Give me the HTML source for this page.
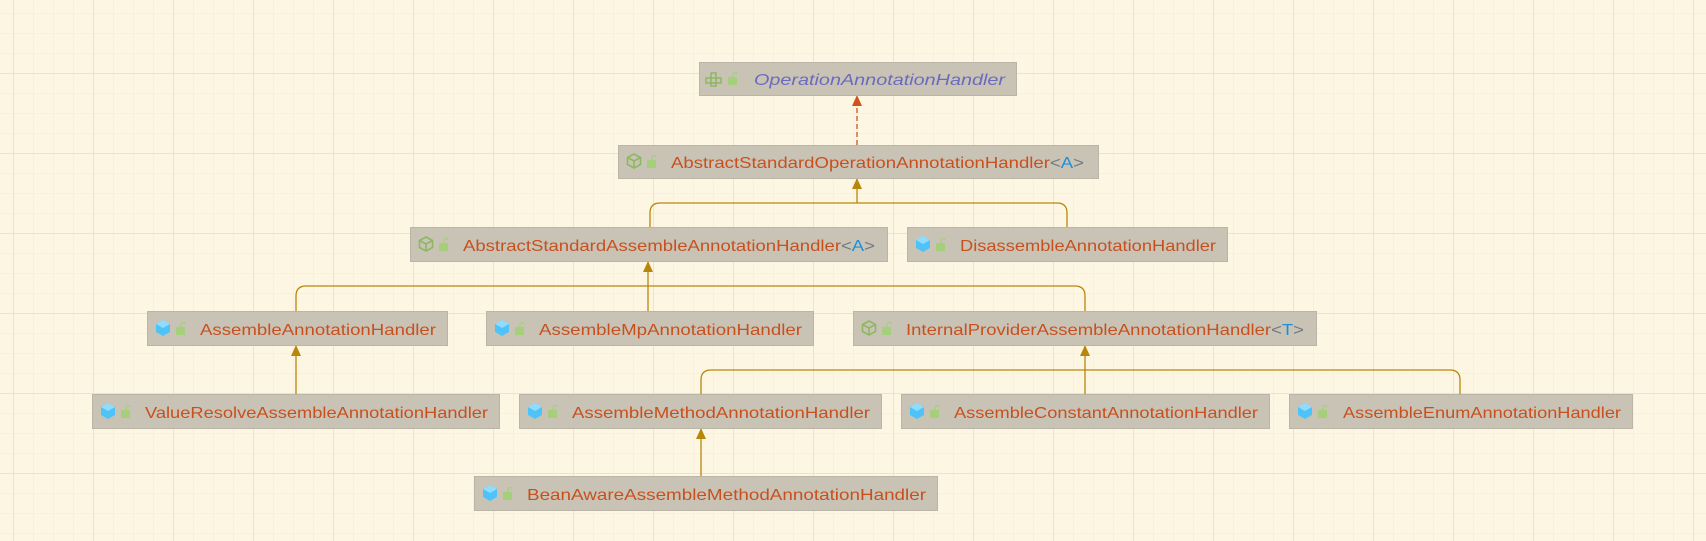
<!DOCTYPE html>
<html><head><meta charset="utf-8"><style>
html,body{margin:0;padding:0;background:#fdf6e3;}
svg{display:block}
text{font-family:"Liberation Sans",sans-serif;font-size:16px;fill:#c8501e}
</style></head><body>
<svg width="1706" height="541" xmlns="http://www.w3.org/2000/svg">
<defs>
<pattern id="minor" width="20" height="20" patternUnits="userSpaceOnUse" x="13" y="13">
<path d="M0 0.5H20M0.5 0V20" stroke="#f7f0de" stroke-width="1" fill="none"/>
</pattern>
<pattern id="major" width="80" height="80" patternUnits="userSpaceOnUse" x="13" y="73">
<path d="M0 0.5H80M0.5 0V80" stroke="#e8e3d7" stroke-width="1" fill="none"/>
</pattern>
<g id="cls"><path d="M8 0L15 4V12L8 16L1 12V4Z" fill="#4fc3f7"/><path d="M1 4L8 8L15 4L8 0Z" fill="#8fdcff"/></g>
<g id="abs"><path d="M8 1L14.5 4.5V11.5L8 15L1.5 11.5V4.5Z M1.5 4.5L8 8L14.5 4.5M8 8V15" fill="none" stroke="#8db860" stroke-width="1.6"/></g>
<g id="lock"><rect x="0" y="5" width="9" height="8" fill="#a6cf7c"/><path d="M5 5V2.5Q5 0.5 7 0.5Q9 0.5 9 2.5" fill="none" stroke="#a6cf7c" stroke-width="1.3"/></g>
<g id="intf"><rect x="6" y="2" width="5" height="5" fill="none" stroke="#8db860" stroke-width="1.5"/><rect x="1" y="7" width="5" height="5" fill="none" stroke="#8db860" stroke-width="1.5"/><rect x="11" y="7" width="5" height="5" fill="none" stroke="#8db860" stroke-width="1.5"/><rect x="6" y="12" width="5" height="3" fill="none" stroke="#8db860" stroke-width="1.5"/></g>
</defs>
<rect width="1706" height="541" fill="url(#minor)"/>
<rect width="1706" height="541" fill="url(#major)"/>

<g fill="none" stroke="#b8860b" stroke-width="1.3">
<path d="M857 178V203M650 227V213Q650 203 660 203H1057Q1067 203 1067 213V227"/>
<path d="M648 261V311M296 311V296Q296 286 306 286H1075Q1085 286 1085 296V311"/>
<path d="M296 345V394"/>
<path d="M1085 345V394M701 394V380Q701 370 711 370H1450Q1460 370 1460 380V394"/>
<path d="M701 428V476"/>
</g>
<g fill="#b8860b">
<path d="M857 178l-5 11h10z"/><path d="M648 261l-5 11h10z"/><path d="M296 345l-5 11h10z"/><path d="M1085 345l-5 11h10z"/><path d="M701 428l-5 11h10z"/>
</g>
<path d="M857 145V100" stroke="#d2521e" stroke-width="1.3" stroke-dasharray="5,3"/>
<path d="M857 95l-5 11h10z" fill="#d2521e"/>

<g fill="#c9c3b6" stroke="#bbb5a8" stroke-width="1">
<rect x="699.5" y="62.5" width="317" height="33"/>
<rect x="618.5" y="145.5" width="480" height="33"/>
<rect x="410.5" y="227.5" width="477" height="34"/>
<rect x="907.5" y="227.5" width="320" height="34"/>
<rect x="147.5" y="311.5" width="300" height="34"/>
<rect x="486.5" y="311.5" width="327" height="34"/>
<rect x="853.5" y="311.5" width="463" height="34"/>
<rect x="92.5" y="394.5" width="407" height="34"/>
<rect x="519.5" y="394.5" width="362" height="34"/>
<rect x="901.5" y="394.5" width="368" height="34"/>
<rect x="1289.5" y="394.5" width="343" height="34"/>
<rect x="474.5" y="476.5" width="463" height="34"/>
</g>

<use href="#intf" x="705" y="71"/><use href="#lock" x="728" y="72"/>
<text x="754" y="85" font-style="italic" style="fill:#6b6bbd" textLength="251" lengthAdjust="spacingAndGlyphs">OperationAnnotationHandler</text>

<use href="#abs" x="626" y="153"/><use href="#lock" x="647" y="155"/>
<text x="671" y="168" textLength="413" lengthAdjust="spacingAndGlyphs">AbstractStandardOperationAnnotationHandler<tspan style="fill:#6f7a80">&lt;</tspan><tspan style="fill:#1e8fd6">A</tspan><tspan style="fill:#6f7a80">&gt;</tspan></text>

<use href="#abs" x="418" y="236"/><use href="#lock" x="439" y="238"/>
<text x="463" y="251" textLength="412" lengthAdjust="spacingAndGlyphs">AbstractStandardAssembleAnnotationHandler<tspan style="fill:#6f7a80">&lt;</tspan><tspan style="fill:#1e8fd6">A</tspan><tspan style="fill:#6f7a80">&gt;</tspan></text>

<use href="#cls" x="915" y="236"/><use href="#lock" x="936" y="238"/>
<text x="960" y="251" textLength="256" lengthAdjust="spacingAndGlyphs">DisassembleAnnotationHandler</text>

<use href="#cls" x="155" y="320"/><use href="#lock" x="176" y="322"/>
<text x="200" y="335" textLength="236" lengthAdjust="spacingAndGlyphs">AssembleAnnotationHandler</text>

<use href="#cls" x="494" y="320"/><use href="#lock" x="515" y="322"/>
<text x="539" y="335" textLength="263" lengthAdjust="spacingAndGlyphs">AssembleMpAnnotationHandler</text>

<use href="#abs" x="861" y="320"/><use href="#lock" x="882" y="322"/>
<text x="906" y="335" textLength="398" lengthAdjust="spacingAndGlyphs">InternalProviderAssembleAnnotationHandler<tspan style="fill:#6f7a80">&lt;</tspan><tspan style="fill:#1e8fd6">T</tspan><tspan style="fill:#6f7a80">&gt;</tspan></text>

<use href="#cls" x="100" y="403"/><use href="#lock" x="121" y="405"/>
<text x="145" y="418" textLength="343" lengthAdjust="spacingAndGlyphs">ValueResolveAssembleAnnotationHandler</text>

<use href="#cls" x="527" y="403"/><use href="#lock" x="548" y="405"/>
<text x="572" y="418" textLength="298" lengthAdjust="spacingAndGlyphs">AssembleMethodAnnotationHandler</text>

<use href="#cls" x="909" y="403"/><use href="#lock" x="930" y="405"/>
<text x="954" y="418" textLength="304" lengthAdjust="spacingAndGlyphs">AssembleConstantAnnotationHandler</text>

<use href="#cls" x="1297" y="403"/><use href="#lock" x="1318" y="405"/>
<text x="1343" y="418" textLength="278" lengthAdjust="spacingAndGlyphs">AssembleEnumAnnotationHandler</text>

<use href="#cls" x="482" y="485"/><use href="#lock" x="503" y="487"/>
<text x="527" y="500" textLength="399" lengthAdjust="spacingAndGlyphs">BeanAwareAssembleMethodAnnotationHandler</text>
</svg>
</body></html>
